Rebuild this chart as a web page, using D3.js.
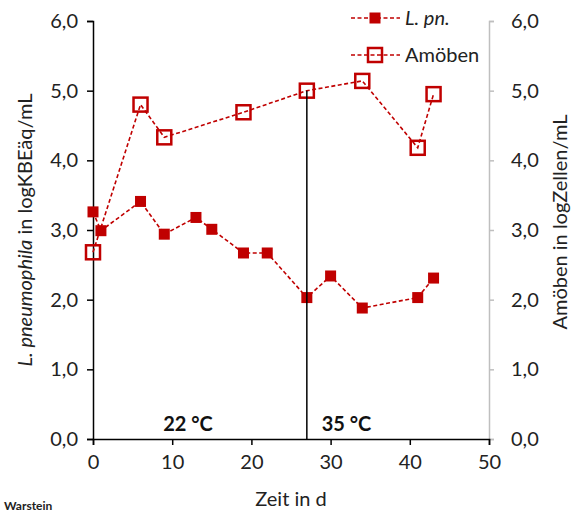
<!DOCTYPE html>
<html>
<head>
<meta charset="utf-8">
<script src="https://cdn.jsdelivr.net/npm/d3@7"></script>
<style>
  body { margin: 0; background: #fff; }
  svg { display: block; font-family: Lato, "Open Sans", sans-serif; }
</style>
</head>
<body>
<svg width="576" height="515"></svg>
<script>
// values
const lpnDays = [0, 1, 6, 9, 13, 15, 19, 22, 27, 30, 34, 41, 43];
const lpnValues = [3.26, 2.99, 3.41, 2.94, 3.18, 3.01, 2.67, 2.67, 2.03, 2.34, 1.88, 2.03, 2.31];
const amoebaDays = [0, 6, 9, 19, 27, 34, 41, 43];
const amoebaValues = [2.68, 4.80, 4.33, 4.69, 5.0, 5.14, 4.18, 4.95];
const xTicks = [0, 10, 20, 30, 40, 50];
const yTicks = [0, 1, 2, 3, 4, 5, 6];
const switchDay = 27;
const tempLabels = [{ day: 12, text: "22 °C" }, { day: 32, text: "35 °C" }];

const red = "#c00000";
const fs = 20;
const svg = d3.select("svg");

const x = d3.scaleLinear().domain([0, 50]).range([93, 489]);
const yL = d3.scaleLinear().domain([0, 6]).range([439, 21]);
const yR = d3.scaleLinear().domain([0, 6]).range([439, 21]);

const fmt = d => d.toFixed(1).replace(".", ",");

// left axis
const gL = svg.append("g")
  .attr("transform", `translate(${x(0)},0)`)
  .call(d3.axisLeft(yL).tickValues(yTicks).tickFormat(fmt).tickSize(6).tickPadding(9));
gL.select(".domain").attr("stroke", "#000").attr("stroke-width", 1.5);
gL.selectAll(".tick line").attr("stroke", "#000").attr("stroke-width", 1.5);
gL.selectAll(".tick text").attr("font-size", fs).attr("fill", "#222").attr("font-family", "Lato");

// right axis (grey)
const gR = svg.append("g")
  .attr("transform", `translate(${x(50)},0)`)
  .call(d3.axisRight(yR).tickValues(yTicks).tickFormat(fmt).tickSize(5).tickPadding(17));
gR.select(".domain").attr("stroke", "#bfbfbf").attr("stroke-width", 1.5);
gR.selectAll(".tick line").attr("stroke", "#bfbfbf").attr("stroke-width", 1.5);
gR.selectAll(".tick text").attr("font-size", fs).attr("fill", "#222").attr("font-family", "Lato");

// x axis
const gX = svg.append("g")
  .attr("transform", `translate(0,${yL(0)})`)
  .call(d3.axisBottom(x).tickValues(xTicks).tickSize(6).tickPadding(10));
gX.select(".domain").attr("stroke", "#000").attr("stroke-width", 1.5);
gX.selectAll(".tick line").attr("stroke", "#000").attr("stroke-width", 1.5);
gX.selectAll(".tick text").attr("font-size", fs).attr("fill", "#222").attr("font-family", "Lato");

// axis titles
const leftTitle = svg.append("text")
  .attr("transform", `translate(32,${(yL(0) + yL(6)) / 2}) rotate(-90)`)
  .attr("text-anchor", "middle")
  .attr("font-size", fs)
  .attr("fill", "#222");
leftTitle.append("tspan").attr("font-style", "italic").text("L. pneumophila");
leftTitle.append("tspan").text(" in logKBEäq/mL");

svg.append("text")
  .attr("transform", `translate(567,${(yR(0) + yR(6)) / 2 - 8}) rotate(-90)`)
  .attr("text-anchor", "middle")
  .attr("font-size", fs)
  .attr("fill", "#222")
  .text("Amöben in logZellen/mL");

svg.append("text")
  .attr("x", (x(0) + x(50)) / 2)
  .attr("y", 506)
  .attr("text-anchor", "middle")
  .attr("font-size", fs)
  .attr("fill", "#222")
  .text("Zeit in d");

svg.append("text")
  .attr("x", 4)
  .attr("y", 510)
  .attr("font-size", 12)
  .attr("font-weight", "bold")
  .attr("fill", "#222")
  .text("Warstein");

// temperature labels
svg.selectAll(".temp")
  .data(tempLabels)
  .enter()
  .append("text")
  .attr("x", d => x(d.day))
  .attr("y", 431)
  .attr("text-anchor", "middle")
  .attr("font-size", fs)
  .attr("font-weight", "bold")
  .attr("fill", "#111")
  .text(d => d.text);

const lpn = lpnDays.map((d, i) => ({ day: d, v: lpnValues[i] }));
const amo = amoebaDays.map((d, i) => ({ day: d, v: amoebaValues[i] }));

const line = scale => d3.line().x(d => x(d.day)).y(d => scale(d.v));

svg.append("path")
  .datum(amo)
  .attr("d", line(yR))
  .attr("fill", "none")
  .attr("stroke", red)
  .attr("stroke-width", 1.6)
  .attr("stroke-dasharray", "4,2.5");

svg.append("path")
  .datum(lpn)
  .attr("d", line(yL))
  .attr("fill", "none")
  .attr("stroke", red)
  .attr("stroke-width", 1.6)
  .attr("stroke-dasharray", "4,2.5");

// amoeba markers (open squares)
const openSize = 14;
svg.selectAll(".amo")
  .data(amo)
  .enter()
  .append("rect")
  .attr("x", d => x(d.day) - openSize / 2)
  .attr("y", d => yR(d.v) - openSize / 2)
  .attr("width", openSize)
  .attr("height", openSize)
  .attr("fill", "none")
  .attr("stroke", red)
  .attr("stroke-width", 2.5);

// L. pn. markers (filled squares)
const fillSize = 11;
svg.selectAll(".lpn")
  .data(lpn)
  .enter()
  .append("rect")
  .attr("x", d => x(d.day) - fillSize / 2)
  .attr("y", d => yL(d.v) - fillSize / 2)
  .attr("width", fillSize)
  .attr("height", fillSize)
  .attr("fill", red);

// temperature switch line
svg.append("line")
  .attr("x1", x(switchDay))
  .attr("x2", x(switchDay))
  .attr("y1", yL(0))
  .attr("y2", yR(5))
  .attr("stroke", "#000")
  .attr("stroke-width", 1.5);

// legend
const legend = [
  { label: "L. pn.", italic: true, open: false, y: 18 },
  { label: "Amöben", italic: false, open: true, y: 55 }
];
const lg = svg.append("g").selectAll("g")
  .data(legend)
  .enter()
  .append("g")
  .attr("transform", d => `translate(0,${d.y})`);
lg.append("line")
  .attr("x1", 351).attr("x2", 400)
  .attr("stroke", red)
  .attr("stroke-width", 1.6)
  .attr("stroke-dasharray", "4,2.5");
lg.append("rect")
  .attr("x", d => 375 - (d.open ? openSize : fillSize) / 2)
  .attr("y", d => -(d.open ? openSize : fillSize) / 2)
  .attr("width", d => d.open ? openSize : fillSize)
  .attr("height", d => d.open ? openSize : fillSize)
  .attr("fill", d => d.open ? "none" : red)
  .attr("stroke", d => d.open ? red : "none")
  .attr("stroke-width", 2.5);
lg.append("text")
  .attr("x", 405)
  .attr("y", 7)
  .attr("font-size", fs)
  .attr("font-style", d => d.italic ? "italic" : "normal")
  .attr("fill", "#222")
  .text(d => d.label);
</script>
</body>
</html>
